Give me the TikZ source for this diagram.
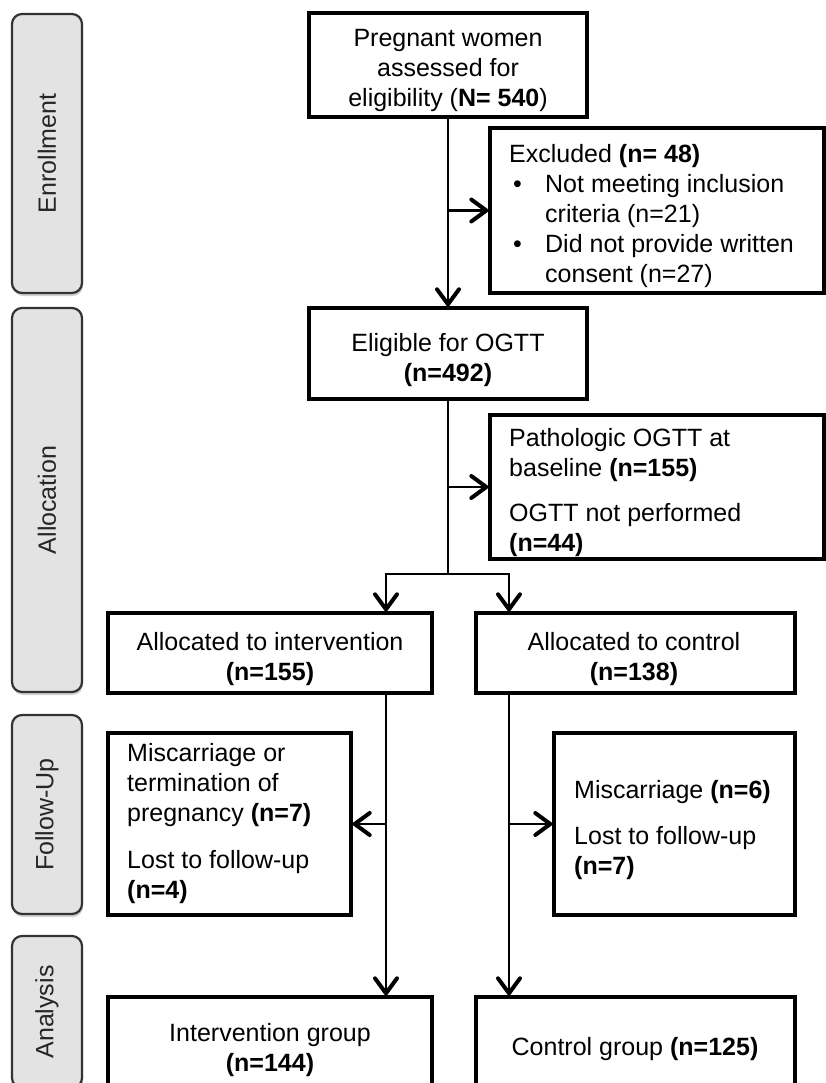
\documentclass[tikz,border=0pt]{standalone}
\usepackage{fontspec}
\setmainfont{Liberation Sans}
\usetikzlibrary{arrows.meta,shadows}
\begin{document}
\begin{tikzpicture}[x=1pt,y=-1pt,
  every node/.style={font=\fontsize{25}{30}\selectfont},
  bx/.style={draw=black, line width=3.4pt, fill=white, inner sep=0pt},
  txt/.style={inner sep=0pt},
  side/.style={draw=black!80, line width=2.2pt, fill=black!11, rounded corners=10pt,
    inner sep=0pt, text=black!85,
    drop shadow={shadow xshift=1pt, shadow yshift=-3pt, opacity=0.25, fill=black!70}},
  conn/.style={line width=2.8pt},
  arr/.style={line width=2.8pt, -{Straight Barb[length=15pt,width=22pt,line width=4pt,round]}}]
\useasboundingbox (0,0) rectangle (826,1083);
\clip (0,0) rectangle (826,1083);

% phase labels
\node[side, minimum width=70pt, minimum height=279pt] (enr) at (47,153.5) {\rotatebox{90}{Enrollment}};
\node[side, minimum width=70pt, minimum height=384pt] (all) at (47,500) {\rotatebox{90}{Allocation}};
\node[side, minimum width=70pt, minimum height=199pt] (fol) at (47,814.5) {\rotatebox{90}{Follow-Up}};
\node[side, minimum width=70pt, minimum height=152pt] (ana) at (47,1012) {\rotatebox{90}{Analysis}};

% boxes
\node[bx, minimum width=278pt, minimum height=104pt] (top) at (448,65) {};
\node[bx, minimum width=334pt, minimum height=165pt] (excl) at (657,210.5) {};
\node[bx, minimum width=278pt, minimum height=91pt] (elig) at (448,353.5) {};
\node[bx, minimum width=334pt, minimum height=144pt] (path) at (657,487) {};
\node[bx, minimum width=324pt, minimum height=80pt] (allocI) at (270,653) {};
\node[bx, minimum width=319pt, minimum height=80pt] (allocC) at (635.5,653) {};
\node[bx, minimum width=243pt, minimum height=182pt] (fuI) at (229.5,824) {};
\node[bx, minimum width=241pt, minimum height=182pt] (fuC) at (674.5,824) {};
\node[bx, minimum width=324pt, minimum height=98pt] (anI) at (270,1046) {};
\node[bx, minimum width=319pt, minimum height=98pt] (anC) at (635.5,1046) {};

% texts
\node[txt, anchor=north, align=center] (topT) at (448,29)
  {Pregnant women\\assessed for\\eligibility (\textbf{N= 540})};
\node[txt, anchor=north west, align=left] (exclT) at (509,144)
  {Excluded \textbf{(n= 48)}\\
   \hspace*{4pt}\makebox[32pt][l]{•}Not meeting inclusion\\
   \hspace*{36pt}criteria (n=21)\\
   \hspace*{4pt}\makebox[32pt][l]{•}Did not provide written\\
   \hspace*{36pt}consent (n=27)};
\node[txt, anchor=north, align=center] (eligT) at (448,333)
  {Eligible for OGTT\\\textbf{(n=492)}};
\node[txt, anchor=north west, align=left] (pathT) at (509,428)
  {Pathologic OGTT at\\baseline \textbf{(n=155)}\\[15pt]OGTT not performed\\\textbf{(n=44)}};
\node[txt, anchor=north, align=center] (allocIT) at (270,632)
  {Allocated to intervention\\\textbf{(n=155)}};
\node[txt, anchor=north, align=center] (allocCT) at (634,632)
  {Allocated to control\\\textbf{(n=138)}};
\node[txt, anchor=north west, align=left] (fuIT) at (127,743)
  {Miscarriage or\\termination of\\pregnancy \textbf{(n=7)}\\[17pt]Lost to follow-up\\\textbf{(n=4)}};
\node[txt, anchor=north west, align=left] (fuCT) at (574,780)
  {Miscarriage \textbf{(n=6)}\\[16pt]Lost to follow-up\\\textbf{(n=7)}};
\node[txt, anchor=north, align=center] (anIT) at (270,1023)
  {Intervention group\\\textbf{(n=144)}};
\node[txt, anchor=north, align=center] (anCT) at (635,1037)
  {Control group \textbf{(n=125)}};

% connectors
\coordinate (split) at (448,574);
\coordinate (sL) at (386,574);
\coordinate (sR) at (509,574);
\draw[arr] (top.south) -- (elig.north);
\draw[arr] (excl.west -| top.south) -- (excl.west);
\draw[conn] (elig.south) -- (split);
\draw[arr] (path.west -| elig.south) -- (path.west);
\draw[arr] (split) -| (sL |- allocI.north);
\draw[arr] (split) -| (sR |- allocC.north);
\draw[arr] (allocI.south -| sL) -- (anI.north -| sL);
\draw[arr] (allocC.south -| sR) -- (anC.north -| sR);
\draw[arr] (fuI.east -| sL) -- (fuI.east);
\draw[arr] (fuC.west -| sR) -- (fuC.west);
\end{tikzpicture}
\end{document}
